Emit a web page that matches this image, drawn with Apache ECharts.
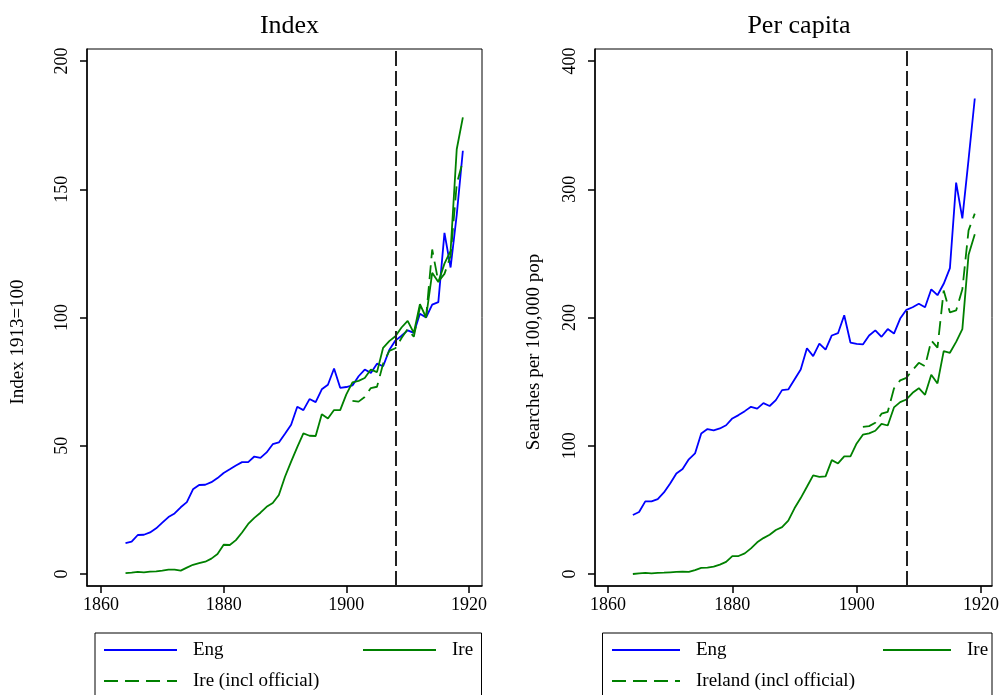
<!DOCTYPE html>
<html>
<head>
<meta charset="utf-8">
<script src="https://cdn.jsdelivr.net/npm/echarts@6/dist/echarts.min.js"></script>
<style>
  html, body { margin: 0; padding: 0; background: #fff; }
  #chart { width: 1002px; height: 695px; }
</style>
</head>
<body>
<div id="chart"></div>
<script>
// Years covered by the England / Ireland search series
const years = [1864, 1865, 1866, 1867, 1868, 1869, 1870, 1871, 1872, 1873,
  1874, 1875, 1876, 1877, 1878, 1879, 1880, 1881, 1882, 1883,
  1884, 1885, 1886, 1887, 1888, 1889, 1890, 1891, 1892, 1893,
  1894, 1895, 1896, 1897, 1898, 1899, 1900, 1901, 1902, 1903,
  1904, 1905, 1906, 1907, 1908, 1909, 1910, 1911, 1912, 1913,
  1914, 1915, 1916, 1917, 1918, 1919];
// Years for the Irish series that includes official searches
const officialYears = [1901, 1902, 1903, 1904, 1905, 1906, 1907, 1908, 1909, 1910,
  1911, 1912, 1913, 1914, 1915, 1916, 1917, 1918, 1919];

// Index, 1913 = 100
const engIndex = [12.0, 12.6, 15.2, 15.3, 16.2, 17.8, 20.0, 22.2, 23.6, 26.0,
  28.0, 33.0, 34.7, 34.8, 35.8, 37.4, 39.4, 40.8, 42.3, 43.6,
  43.6, 45.8, 45.3, 47.4, 50.6, 51.3, 54.7, 58.2, 65.2, 63.9,
  68.2, 67.0, 72.0, 73.8, 80.1, 72.6, 72.9, 73.5, 77.1, 79.7,
  78.4, 82.0, 81.0, 87.3, 91.0, 92.9, 95.0, 94.0, 101.5, 100,
  105, 106, 133, 119.5, 140, 165];
const ireIndex = [0.3, 0.5, 0.8, 0.65, 0.9, 1.0, 1.3, 1.7, 1.7, 1.3,
  2.5, 3.6, 4.2, 4.8, 6.0, 7.8, 11.4, 11.3, 13.2, 16.2,
  19.5, 21.9, 23.9, 26.2, 27.7, 30.8, 37.9, 43.8, 49.5, 54.8,
  53.9, 53.8, 62.3, 60.6, 63.9, 63.9, 70.0, 74.7, 75.3, 76.4,
  79.7, 78.7, 88.2, 90.8, 92.7, 96.1, 98.7, 94.0, 105.2, 100,
  117.4, 113.8, 121, 126, 165.6, 178];
const ireOfficialIndex = [67.5, 67.2, 69.0, 72.5, 73.0, 82.0, 87.0, 88.0, 92.0, 95.5,
  92.5, 104, 100, 126.5, 114, 117, 124, 152, 161];

// Searches per 100,000 population
const engPc = [46, 48.3, 56.6, 56.6, 58.4, 63.6, 70.6, 78.4, 81.8, 89.4,
  94, 109.6, 113, 112, 113.5, 116, 121.3, 123.9, 127, 130.4,
  129, 133.2, 131, 135.6, 143.4, 143.9, 151.7, 159.5, 176, 169.9,
  179.7, 175, 186, 187.8, 201.8, 180.5, 179.5, 179, 186, 190,
  185, 191, 187.5, 199.2, 206, 208, 210.7, 208, 222, 217.4,
  226.3, 238.5, 305.2, 277.3, 323.4, 370.8];
const irePc = [0, 0.5, 0.8, 0.5, 0.8, 1, 1.3, 1.6, 1.8, 1.6,
  3.1, 4.7, 4.9, 5.7, 7.3, 9.4, 14, 14, 16.1, 20,
  24.7, 28, 30.6, 34.3, 36.6, 41.6, 51.2, 59.2, 68, 76.9,
  75.8, 76.1, 88.8, 86.2, 91.7, 91.7, 101.8, 108.6, 109.6, 111.7,
  117.1, 115.8, 129.9, 134, 136.1, 141.3, 144.9, 139.7, 155.3, 148.6,
  173.8, 172.5, 181, 191, 249, 265];
const ireOfficialPc = [114.8, 115.3, 118, 125, 126.5, 144.7, 151, 153, 159, 164.7,
  162, 182, 176.5, 221, 204, 205.5, 222, 268, 281];

// Axis ticks and the reference year marker
const xTicks = [1860, 1880, 1900, 1920];
const indexTicks = [0, 50, 100, 150, 200];
const pcTicks = [0, 100, 200, 300, 400];
const markerYear = 1908;

const FONT = "'Liberation Serif', 'DejaVu Serif', serif";
const BLUE = '#0000ff';
const GREEN = '#008000';

const pairs = (xs, ys) => xs.map((x, i) => [x, ys[i]]);

function xAxisFor(gridIndex, min, max) {
  return {
    type: 'value', gridIndex, min, max,
    axisLine: { show: true, onZero: false, lineStyle: { color: '#000', width: 1.5 } },
    axisTick: { show: true, length: 7, customValues: xTicks, lineStyle: { color: '#000', width: 1.5 } },
    axisLabel: { customValues: xTicks, margin: 10, fontSize: 18, color: '#000', fontFamily: FONT,
      formatter: v => String(v) },
    splitLine: { show: false }
  };
}

function yAxisFor(gridIndex, min, max, ticks) {
  return {
    type: 'value', gridIndex, min, max,
    axisLine: { show: true, onZero: false, lineStyle: { color: '#000', width: 1.5 } },
    axisTick: { show: true, length: 7, customValues: ticks, lineStyle: { color: '#000', width: 1.5 } },
    axisLabel: { customValues: ticks, rotate: 90, margin: 16, fontSize: 18, color: '#000', fontFamily: FONT,
      formatter: v => String(v) },
    splitLine: { show: false }
  };
}

function lineSeries(name, axisIndex, data, color, dashed) {
  return {
    type: 'line', name, xAxisIndex: axisIndex, yAxisIndex: axisIndex,
    data, symbol: 'none', connectNulls: false,
    lineStyle: { color, width: 1.8, type: dashed ? [14, 7] : 'solid' },
    itemStyle: { color },
    z: 3
  };
}

const yearMarker = {
  silent: true, symbol: 'none', animation: false,
  label: { show: false },
  lineStyle: { color: '#222', width: 2, type: [15, 5] },
  data: [{ xAxis: markerYear }]
};

// One legend entry: a plain line sample followed by its label
function legendItem(name, left, top, width) {
  return {
    data: [name], left, top, orient: 'horizontal', padding: 0,
    itemWidth: width, itemHeight: 20, selectedMode: false,
    itemStyle: { opacity: 0 },
    textStyle: { fontSize: 19, color: '#000', fontFamily: FONT, lineHeight: 20, padding: [0, 0, 0, 11] }
  };
}

function axisTitle(text, x, y) {
  return {
    type: 'text', silent: true, x, y, rotation: Math.PI / 2,
    style: { text, fill: '#000', font: "19px 'Liberation Serif', 'DejaVu Serif', serif",
      textAlign: 'center', textVerticalAlign: 'middle' }
  };
}

const series = [
  Object.assign(lineSeries('Eng', 0, pairs(years, engIndex), BLUE, false), { markLine: yearMarker }),
  lineSeries('Ire', 0, pairs(years, ireIndex), GREEN, false),
  lineSeries('Ire (incl official)', 0, pairs(officialYears, ireOfficialIndex), GREEN, true),
  Object.assign(lineSeries('Eng', 1, pairs(years, engPc), BLUE, false), { markLine: yearMarker }),
  lineSeries('Ire', 1, pairs(years, irePc), GREEN, false),
  lineSeries('Ireland (incl official)', 1, pairs(officialYears, ireOfficialPc), GREEN, true)
];

const chart = echarts.init(document.getElementById('chart'), null, { renderer: 'canvas' });
chart.setOption({
  animation: false,
  backgroundColor: '#fff',
  title: [
    { text: 'Index', left: 284.5, top: 8, textAlign: 'center',
      textStyle: { fontSize: 26, fontWeight: 'normal', color: '#000', fontFamily: FONT } },
    { text: 'Per capita', left: 794, top: 8, textAlign: 'center',
      textStyle: { fontSize: 26, fontWeight: 'normal', color: '#000', fontFamily: FONT } }
  ],
  grid: [
    { left: 87, top: 49, width: 395, height: 537, show: true, borderColor: '#000', borderWidth: 1, containLabel: false },
    { left: 595, top: 49, width: 398, height: 537, show: true, borderColor: '#000', borderWidth: 1, containLabel: false }
  ],
  xAxis: [xAxisFor(0, 1857.72, 1922.12), xAxisFor(1, 1857.91, 1921.77)],
  yAxis: [
    yAxisFor(0, -4.68, 204.68, indexTicks),
    yAxisFor(1, -9.36, 409.4, pcTicks)
  ],
  legend: [
    legendItem('Eng', 103, 640, 73),
    legendItem('Ire', 362, 640, 73),
    legendItem('Ire (incl official)', 103, 671, 73),
    legendItem('Eng', 611, 640, 68),
    legendItem('Ire', 882, 640, 68),
    legendItem('Ireland (incl official)', 611, 671, 68)
  ],
  graphic: [
    axisTitle('Index 1913=100', 18, 342),
    axisTitle('Searches per 100,000 pop', 534, 352),
    { type: 'rect', silent: true, shape: { x: 95, y: 633, width: 386.5, height: 80 },
      style: { fill: 'none', stroke: '#000', lineWidth: 1 } },
    { type: 'rect', silent: true, shape: { x: 602.5, y: 633, width: 389.5, height: 80 },
      style: { fill: 'none', stroke: '#000', lineWidth: 1 } }
  ],
  series
});
</script>
</body>
</html>
